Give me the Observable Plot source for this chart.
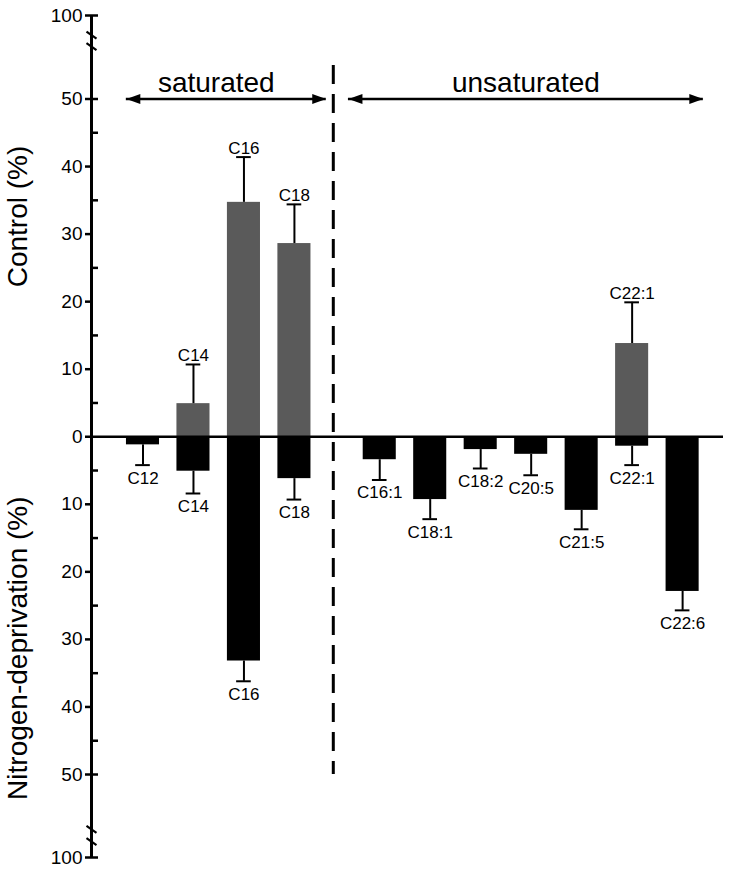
<!DOCTYPE html>
<html>
<head>
<meta charset="utf-8">
<script src="https://cdn.jsdelivr.net/npm/d3@7"></script>
<script src="https://cdn.jsdelivr.net/npm/@observablehq/plot@0.6"></script>
<style>
  html, body { margin: 0; padding: 0; background: #fff; }
  #chart svg { display: block; }
</style>
</head>
<body>
<div id="chart"></div>
<script>
// ---- data ----
const categories = ["C12", "C14", "C16", "C18", "C16:1", "C18:1", "C18:2", "C20:5", "C21:5", "C22:1", "C22:6"];
const groups = ["saturated", "saturated", "saturated", "saturated", "unsaturated", "unsaturated", "unsaturated", "unsaturated", "unsaturated", "unsaturated", "unsaturated"];
const controlMean = [0, 4.9, 34.7, 28.6, 0, 0, 0, 0, 0, 13.8, 0];
const controlErr = [0, 5.8, 6.7, 5.8, 0, 0, 0, 0, 0, 6.1, 0];
const nitrogenMean = [1.2, 5.1, 33.2, 6.2, 3.4, 9.3, 1.9, 2.6, 10.9, 1.4, 22.9];
const nitrogenErr = [3.0, 3.3, 3.0, 3.1, 3.0, 2.9, 2.8, 3.1, 2.8, 2.8, 2.8];
const groupNames = ["saturated", "unsaturated"];
const yTicksMajor = [100, 50, 40, 30, 20, 10, 0, -10, -20, -30, -40, -50, -100];
const yTicksMinor = [45, 35, 25, 15, 5, -5, -15, -25, -35, -45];
const yTicksBoth = [100, 50, -50, -100];
const axisBreaks = [88.3, 81.4, -83.1, -90.4];
const yLabels = ["Control (%)", "Nitrogen-deprivation (%)"];

// ---- layout helpers ----
const W = 731, H = 871;
const mL = 91, mR = 8, mT = 15, mB = 14;
const frameW = W - mL - mR;
const GAP = 0.69;             // extra spacing between the two groups
const BW = 0.655;             // bar width (x units)
const CAP = 0.145;            // half cap width (x units)
const xDomain = [-1.02, 11.5];
const pxPerUnit = frameW / (xDomain[1] - xDomain[0]);
const FONT = "'Liberation Sans', Arial, Helvetica, sans-serif";

const pos = categories.map((c, i) => i + (groups[i] === "unsaturated" ? GAP : 0));
const lastSat = Math.max(...pos.filter((p, i) => groups[i] === "saturated"));
const divider = lastSat + 0.77;

const ctrl = categories.map((c, i) => ({cat: c, pos: pos[i], v: controlMean[i], e: controlErr[i]})).filter(d => d.v > 0);
const nitro = categories.map((c, i) => ({cat: c, pos: pos[i], v: -nitrogenMean[i], e: -nitrogenErr[i]})).filter(d => d.v < 0);

const firstPos = pos[0], lastPos = pos[pos.length - 1];
const ann = groupNames.map(name => name === "saturated"
  ? {name, x1: firstPos - 0.33, x2: divider - 0.14, dx: -10}
  : {name, x1: divider + 0.3, x2: lastPos + 0.41, dx: 0});

// custom symbols
const slash = {draw(ctx, size) { const s = Math.sqrt(size / Math.PI); ctx.moveTo(-s, -0.7 * s); ctx.lineTo(s, 0.7 * s); }};
const head = {draw(ctx, size) { const s = Math.sqrt(size / Math.PI); ctx.moveTo(0, 0); ctx.lineTo(-2.8 * s, -s); ctx.lineTo(-2.8 * s, s); ctx.closePath(); }};

const chart = Plot.plot({
  width: W, height: H,
  marginLeft: mL, marginRight: mR, marginTop: mT, marginBottom: mB,
  style: {fontFamily: FONT, background: "white", color: "black"},
  x: {type: "linear", domain: xDomain, axis: null},
  y: {type: "linear", domain: [-100, -50, 50, 100], range: [857, 774, 98.5, 15]},
  marks: [
    // bars
    Plot.rect(ctrl, {x1: d => d.pos - BW / 2, x2: d => d.pos + BW / 2, y1: d => 0, y2: "v", fill: "#5a5a5a"}),
    Plot.rect(nitro, {x1: d => d.pos - BW / 2, x2: d => d.pos + BW / 2, y1: d => 0, y2: "v", fill: "#000"}),
    // error bars
    Plot.ruleX(ctrl, {x: "pos", y1: "v", y2: d => d.v + d.e, stroke: "#000", strokeWidth: 2}),
    Plot.ruleY(ctrl, {y: d => d.v + d.e, x1: d => d.pos - CAP, x2: d => d.pos + CAP, stroke: "#000", strokeWidth: 2}),
    Plot.ruleX(nitro, {x: "pos", y1: "v", y2: d => d.v + d.e, stroke: "#000", strokeWidth: 2}),
    Plot.ruleY(nitro, {y: d => d.v + d.e, x1: d => d.pos - CAP, x2: d => d.pos + CAP, stroke: "#000", strokeWidth: 2}),
    // bar labels
    Plot.text(ctrl, {x: "pos", y: d => d.v + d.e, text: "cat", dy: -9, fontSize: 17, fill: "#000"}),
    Plot.text(nitro, {x: "pos", y: d => d.v + d.e, text: "cat", dy: 13, fontSize: 17, fill: "#000"}),
    // zero line
    Plot.ruleY([0], {stroke: "#000", strokeWidth: 2.6}),
    // divider
    Plot.ruleX([divider], {y1: 70, y2: -50, stroke: "#000", strokeWidth: 3, strokeDasharray: "19,10"}),
    // group arrows
    Plot.ruleY(ann, {y: d => 50, x1: "x1", x2: "x2", stroke: "#000", strokeWidth: 2.4}),
    Plot.dot(ann, {x: "x2", y: d => 50, symbol: head, r: 5, fill: "#000", stroke: "none"}),
    Plot.dot(ann, {x: "x1", y: d => 50, symbol: head, r: 5, fill: "#000", stroke: "none", rotate: 180}),
    Plot.text(ann, {x: d => (d.x1 + d.x2) / 2 + d.dx / pxPerUnit, y: d => 59.3, text: "name", fontSize: 28, fill: "#000"}),
    // y axis
    Plot.ruleX([xDomain[0]], {y1: -100, y2: 100, stroke: "#000", strokeWidth: 3}),
    Plot.axisY({ticks: yTicksMajor, tickFormat: d => Math.abs(d), tickSize: 6, tickPadding: 3, fontSize: 19, strokeWidth: 2.5, label: null}),
    Plot.tickY(yTicksMinor.concat(yTicksBoth), {y: d => d, insetLeft: 0, insetRight: frameW - 7, stroke: "#000", strokeWidth: 2.5}),
    Plot.dot(axisBreaks, {x: d => xDomain[0], y: d => d, symbol: slash, r: 5, stroke: "#000", fill: "none", strokeWidth: 2.2}),
    // y labels
    Plot.text(yLabels, {frameAnchor: "left", y: d => d === yLabels[0] ? 32.6 : -31.3, text: d => d, rotate: -90, dx: -73, textAnchor: "middle", fontSize: 28, fill: "#000"})
  ]
});
document.getElementById("chart").appendChild(chart);
</script>
</body>
</html>
